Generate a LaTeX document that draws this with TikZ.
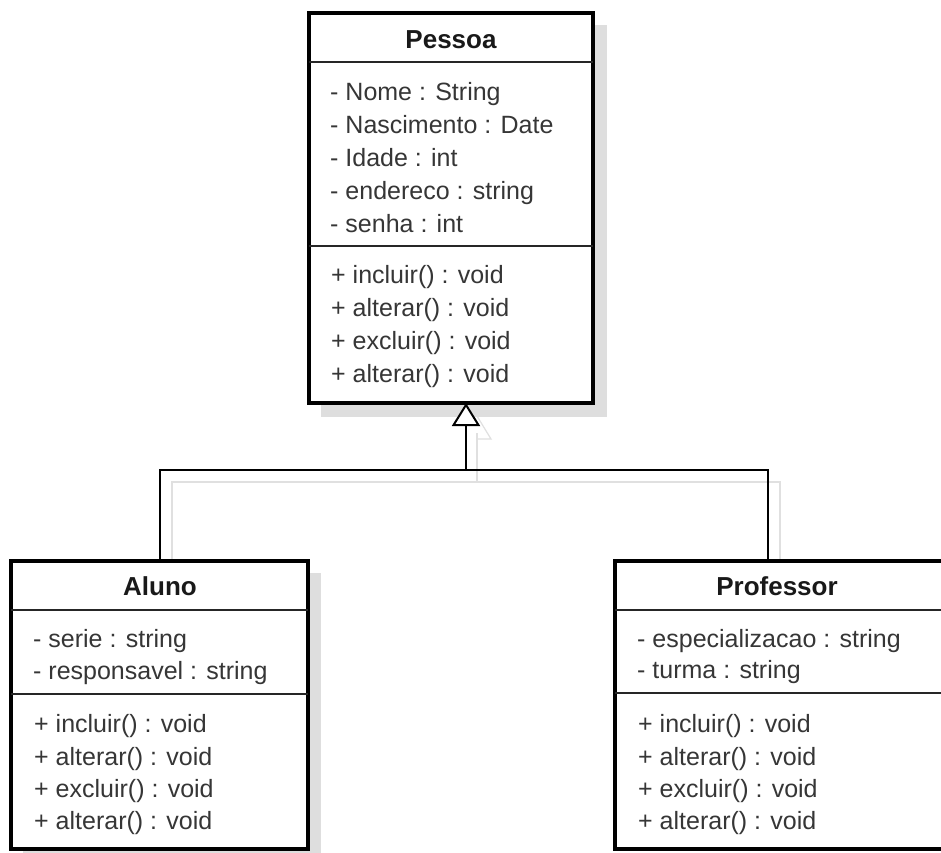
\documentclass[tikz,border=0pt]{standalone}
\usepackage{fontspec}
\setmainfont{Liberation Sans}
\usetikzlibrary{arrows.meta}
\definecolor{txt}{HTML}{363636}
\definecolor{shade}{HTML}{DEDEDE}
\definecolor{faint}{HTML}{E0E0E0}
\tikzset{
  classbox/.style={draw=black, fill=white, line width=3.5pt, rectangle,
    inner sep=0pt, outer sep=0pt, anchor=north west},
  shadowbox/.style={fill=shade, draw=none},
  divider/.style={draw=black!85, line width=1.8pt},
  title/.style={anchor=base, inner sep=0pt, text=black!90,
    font=\fontsize{26}{30}\selectfont\bfseries},
  member/.style={anchor=base west, inner sep=0pt, text=txt,
    font=\fontsize{25}{30}\selectfont},
  link/.style={draw=black, line width=2pt},
  linkshadow/.style={draw=faint, line width=1.2pt},
}
\begin{document}
\begin{tikzpicture}[x=1pt, y=-1pt]
\useasboundingbox[fill=white] (0,0) rectangle (941,852);

% drop shadows of the class boxes
\fill[shadowbox] (321,25) rectangle (607,417);
\fill[shadowbox] (23,573) rectangle (321,870);

% faint shadow of the generalisation connector
\draw[linkshadow] (477,433) -- (477,482);
\draw[linkshadow] (172,572) -- (172,482) -- (780,482) -- (780,572);
\draw[linkshadow] (477,416) -- (491,439) -- (477,439);

% class Pessoa
\node[classbox, minimum width=284pt, minimum height=390pt] (pessoa) at (309,13) {};
\draw[divider] (pessoa.west |- 0,62) -- (pessoa.east |- 0,62);
\draw[divider] (pessoa.west |- 0,246) -- (pessoa.east |- 0,246);
\node[title] (pessoaT) at (451,48) {Pessoa};
\node[member] (pa1) at (330,100) {- Nome : String};
\node[member] (pa2) at (330,133) {- Nascimento : Date};
\node[member] (pa3) at (330,166) {- Idade : int};
\node[member] (pa4) at (330,199) {- endereco : string};
\node[member] (pa5) at (330,232) {- senha : int};
\node[member] (pm1) at (331,283) {+ incluir() : void};
\node[member] (pm2) at (331,316) {+ alterar() : void};
\node[member] (pm3) at (331,349) {+ excluir() : void};
\node[member] (pm4) at (331,382) {+ alterar() : void};

% class Aluno
\node[classbox, minimum width=297pt, minimum height=288pt] (aluno) at (11,561) {};
\draw[divider] (aluno.west |- 0,610) -- (aluno.east |- 0,610);
\draw[divider] (aluno.west |- 0,694) -- (aluno.east |- 0,694);
\node[title] (alunoT) at (160,595) {Aluno};
\node[member] (aa1) at (33,647) {- serie : string};
\node[member] (aa2) at (33,679) {- responsavel : string};
\node[member] (am1) at (34,732) {+ incluir() : void};
\node[member] (am2) at (34,765) {+ alterar() : void};
\node[member] (am3) at (34,797) {+ excluir() : void};
\node[member] (am4) at (34,829) {+ alterar() : void};

% class Professor
\node[classbox, minimum width=340pt, minimum height=288pt] (professor) at (615,561) {};
\draw[divider] (professor.west |- 0,610) -- (professor.east |- 0,610);
\draw[divider] (professor.west |- 0,693) -- (professor.east |- 0,693);
\node[title] (professorT) at (777,595) {Professor};
\node[member] (ra1) at (637,647) {- especializacao : string};
\node[member] (ra2) at (637,678) {- turma : string};
\node[member] (rm1) at (638,732) {+ incluir() : void};
\node[member] (rm2) at (638,765) {+ alterar() : void};
\node[member] (rm3) at (638,797) {+ excluir() : void};
\node[member] (rm4) at (638,829) {+ alterar() : void};

% generalisation: Aluno and Professor inherit from Pessoa
\coordinate (hub) at (466,470);
\coordinate (leftbend) at (160,470);
\coordinate (rightbend) at (768,470);
\draw[link] (leftbend |- aluno.north) -- (leftbend) -- (rightbend) -- (rightbend |- professor.north);
\draw[link, -{Triangle[open, length=23pt, width=28pt, line width=2pt, fill=white]}]
  (hub) -- (hub |- pessoa.south);
\end{tikzpicture}
\end{document}
